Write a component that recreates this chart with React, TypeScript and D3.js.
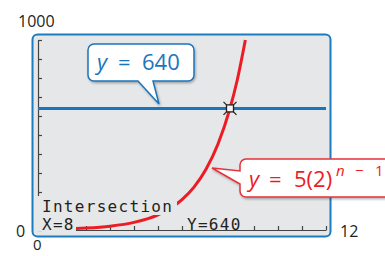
import React, { useEffect, useRef } from 'react';
import * as d3 from 'd3';

// curve y = 5(2)^(n-1)
const nValues = [0, 1, 2, 3, 4, 5, 6, 6.5, 7, 7.5, 8, 8.3, 8.64];
const yValues = [2.5, 5, 10, 20, 40, 80, 160, 226, 320, 453, 640, 788, 1000];
const lineValue = 640;
const intersection = [8, 640];
const xTicks = [0, 1, 2, 3, 4, 5, 6, 7, 8, 9, 10, 11, 12];
const yTicks = [0, 100, 200, 300, 400, 500, 600, 700, 800, 900, 1000];
const xDomain = [0, 12];
const yDomain = [0, 1000];

const W = 385;
const H = 256;
const BLUE = '#1b75bc';
const RED = '#ed1c24';
const INK = '#231f20';
const SANS = '"Open Sans", "Noto Sans", sans-serif';
const MONO = '"DejaVu Sans Mono", monospace';

const App = () => {
  const ref = useRef<SVGSVGElement>(null);

  useEffect(() => {
    const svg = d3.select(ref.current);
    svg.selectAll('*').remove();

    const x = d3.scaleLinear().domain(xDomain).range([38, 326]);
    const y = d3.scaleLinear().domain(yDomain).range([230, 40]);

    // drop shadow for the callouts
    const defs = svg.append('defs');
    defs.append('filter')
      .attr('id', 'shadow')
      .attr('x', '-20%').attr('y', '-20%')
      .attr('width', '140%').attr('height', '160%')
      .append('feDropShadow')
      .attr('dx', 1).attr('dy', 1.5)
      .attr('stdDeviation', 1)
      .attr('flood-color', '#000')
      .attr('flood-opacity', 0.3);

    // calculator screen
    svg.append('rect')
      .attr('x', 32.5).attr('y', 34.5)
      .attr('width', 298).attr('height', 202)
      .attr('rx', 5)
      .attr('fill', '#e6e7e8')
      .attr('stroke', '#1b7cc0')
      .attr('stroke-width', 2);

    // axes (tick marks only)
    svg.append('g')
      .attr('transform', `translate(${x(0)},0)`)
      .attr('color', '#444')
      .call(d3.axisLeft(y).tickValues(yTicks).tickSize(-4).tickSizeOuter(0).tickFormat(() => ''))
      .selectAll('path, line').attr('stroke-width', 1.2);

    svg.append('g')
      .attr('transform', `translate(0,${y(0)})`)
      .attr('color', '#444')
      .call(d3.axisBottom(x).tickValues(xTicks).tickSize(-4).tickSizeOuter(0).tickFormat(() => ''))
      .selectAll('path, line').attr('stroke-width', 1.2);

    // horizontal line y = 640
    svg.append('line')
      .attr('x1', x(xDomain[0])).attr('x2', x(xDomain[1]))
      .attr('y1', y(lineValue)).attr('y2', y(lineValue))
      .attr('stroke', BLUE)
      .attr('stroke-width', 3);

    // exponential curve
    const pts = nValues.map((n, i) => [n, yValues[i]] as [number, number]);
    const line = d3.line<[number, number]>()
      .x(d => x(d[0]))
      .y(d => y(d[1]))
      .curve(d3.curveMonotoneX);
    svg.append('path')
      .datum(pts)
      .attr('fill', 'none')
      .attr('stroke', RED)
      .attr('stroke-width', 3)
      .attr('d', line);

    // calculator text with screen-coloured backgrounds
    const bg = [
      [37, 196, 140, 19],
      [37, 215, 39, 16],
      [184, 215, 59, 15],
    ];
    bg.forEach(b => {
      svg.append('rect')
        .attr('x', b[0]).attr('y', b[1])
        .attr('width', b[2]).attr('height', b[3])
        .attr('fill', '#e6e7e8');
    });
    const mono = (t: string, tx: number, ty: number) =>
      svg.append('text')
        .attr('x', tx).attr('y', ty)
        .text(t)
        .attr('fill', INK)
        .style('font-family', MONO)
        .style('font-size', '16px')
        .style('letter-spacing', '1.3px');
    mono('Intersection', 42, 212);
    mono('X=' + intersection[0], 42, 230);
    mono('Y=' + intersection[1], 187, 230);

    // intersection marker
    const cx = x(intersection[0]);
    const cy = y(intersection[1]);
    const m = svg.append('g').attr('stroke', INK).attr('stroke-width', 1.3);
    [[-1, -1], [1, -1], [1, 1], [-1, 1]].forEach(([sx, sy]) => {
      m.append('line')
        .attr('x1', cx + sx * 3.5).attr('y1', cy + sy * 3.5)
        .attr('x2', cx + sx * 6.5).attr('y2', cy + sy * 6.5);
    });
    m.append('rect')
      .attr('x', cx - 3.5).attr('y', cy - 3.5)
      .attr('width', 7).attr('height', 7)
      .attr('fill', '#f4f4f4');

    // axis window labels
    const label = (t: string, tx: number, ty: number, size = 16) =>
      svg.append('text')
        .attr('x', tx).attr('y', ty)
        .text(t)
        .attr('fill', INK)
        .style('font-family', SANS)
        .style('font-size', `${size}px`);
    label(String(yDomain[1]), 18, 27);
    label(String(yDomain[0]), 16, 237);
    label(String(xDomain[1]), 340, 237);
    label(String(xDomain[0]), 33, 250, 15);

    // callout for the line
    const p1 = d3.path();
    const r = 6;
    p1.moveTo(88 + r, 44);
    p1.lineTo(194 - r, 44);
    p1.arcTo(194, 44, 194, 44 + r, r);
    p1.lineTo(194, 81 - r);
    p1.arcTo(194, 81, 194 - r, 81, r);
    p1.lineTo(153, 81);
    p1.lineTo(159, 104);
    p1.lineTo(138, 81);
    p1.lineTo(88 + r, 81);
    p1.arcTo(88, 81, 88, 81 - r, r);
    p1.lineTo(88, 44 + r);
    p1.arcTo(88, 44, 88 + r, 44, r);
    p1.closePath();
    svg.append('path')
      .attr('d', p1.toString())
      .attr('fill', '#fff')
      .attr('stroke', BLUE)
      .attr('stroke-width', 1.5)
      .attr('filter', 'url(#shadow)');
    const t1 = svg.append('text')
      .attr('y', 70)
      .attr('fill', BLUE)
      .style('font-family', SANS)
      .style('font-size', '22px');
    t1.append('tspan').attr('x', 97).style('font-style', 'italic').text('y');
    t1.append('tspan').attr('x', 118).text('=');
    t1.append('tspan').attr('x', 142).text(String(lineValue));

    // callout for the curve
    const p2 = d3.path();
    p2.moveTo(240 + r, 159);
    p2.lineTo(400, 159);
    p2.lineTo(400, 197);
    p2.lineTo(240 + r, 197);
    p2.arcTo(240, 197, 240, 197 - r, r);
    p2.lineTo(240, 184);
    p2.lineTo(212, 168);
    p2.lineTo(240, 171);
    p2.lineTo(240, 159 + r);
    p2.arcTo(240, 159, 240 + r, 159, r);
    p2.closePath();
    svg.append('path')
      .attr('d', p2.toString())
      .attr('fill', '#fff')
      .attr('stroke', '#e8303a')
      .attr('stroke-width', 1.5)
      .attr('filter', 'url(#shadow)');
    const t2 = svg.append('text')
      .attr('y', 187)
      .attr('fill', RED)
      .style('font-family', SANS)
      .style('font-size', '22px');
    t2.append('tspan').attr('x', 249).style('font-style', 'italic').text('y');
    t2.append('tspan').attr('x', 269).text('=');
    t2.append('tspan').attr('x', 294).text('5(2)');
    const sup = svg.append('text')
      .attr('y', 176)
      .attr('fill', RED)
      .style('font-family', SANS)
      .style('font-size', '15px');
    sup.append('tspan').attr('x', 336).style('font-style', 'italic').text('n');
    sup.append('tspan').attr('x', 355).text('\u2212');
    sup.append('tspan').attr('x', 375).text('1');
  }, []);

  return (
    <svg
      ref={ref}
      width={W}
      height={H}
      style={{ position: 'absolute', left: 0, top: 0, background: '#fff' }}
    />
  );
};

export default App;
